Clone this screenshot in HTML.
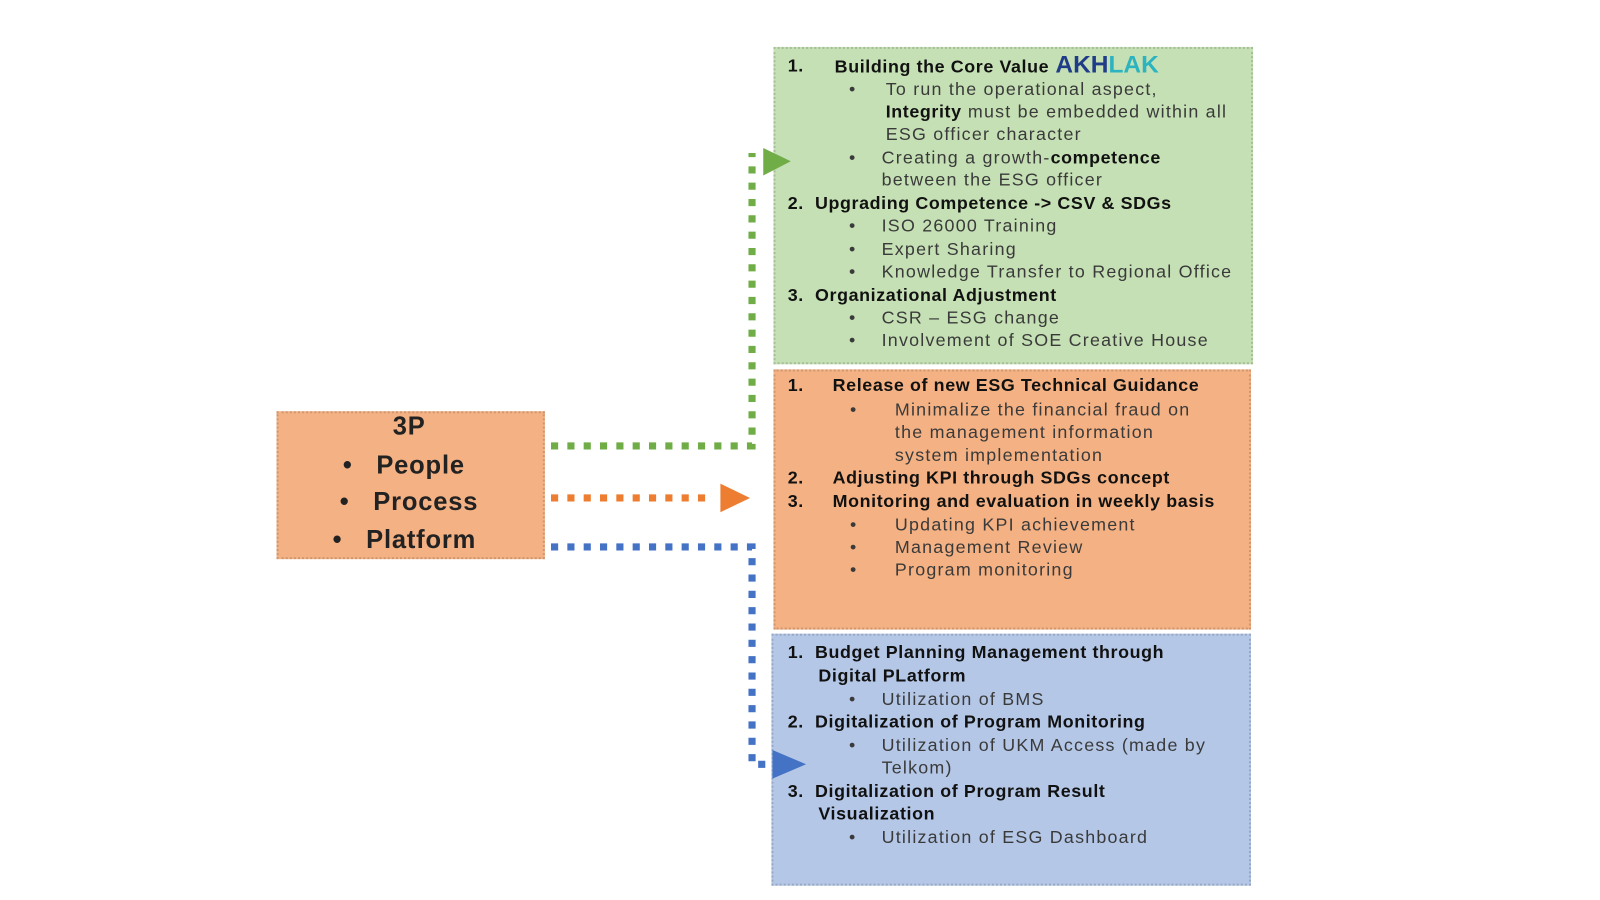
<!DOCTYPE html>
<html><head><meta charset="utf-8"><style>
body{margin:0;width:1600px;height:900px;background:#fff;position:relative;overflow:hidden;font-family:"Liberation Sans",sans-serif;color:#333}
#w{position:absolute;left:0;top:0;width:1568px;height:882px;transform:scale(1.0204);transform-origin:0 0}
.box{position:absolute;border:2px dotted rgba(0,0,0,0.15)}
.t{position:absolute;font-size:17.5px;letter-spacing:1.2px;line-height:22px;white-space:nowrap;color:#3a3a3a}
b{color:#111;letter-spacing:0.6px}
.p{font-size:25px;font-weight:bold;color:#222;letter-spacing:0.8px;line-height:30px}
</style></head><body><div id="w">
<div class="box" style="left:758px;top:46px;width:466px;height:307px;background:#c5e0b4"></div>
<div class="box" style="left:758px;top:362px;width:464px;height:251px;background:#f4b183"></div>
<div class="box" style="left:756px;top:621px;width:466px;height:243px;background:#b4c7e7"></div>
<div class="box" style="left:271px;top:403px;width:259px;height:141px;background:#f4b183"></div>

<div class="t p" style="left:0;width:802px;text-align:center;top:403px">3P</div>
<div class="t p" style="left:336px;top:441px">•&nbsp;&nbsp;&nbsp;People</div>
<div class="t p" style="left:333px;top:477px">•&nbsp;&nbsp;&nbsp;Process</div>
<div class="t p" style="left:326px;top:514px">•&nbsp;&nbsp;&nbsp;Platform</div>

<svg width="1568" height="882" style="position:absolute;left:0;top:0">
<g stroke-width="7" fill="none" stroke-dasharray="7 9">
<path d="M540 437 H737 V150" stroke="#70ad47"/>
<path d="M540 488 H700" stroke="#ed7d31"/>
<path d="M540 536 H737 V749 H752" stroke="#4472c4"/>
</g>
<polygon points="748,145 775,158 748,172" fill="#70ad47"/>
<polygon points="706,474 735,488 706,502" fill="#ed7d31"/>
<polygon points="757,735 790,749 757,763" fill="#4472c4"/>
</svg>

<div class="t" style="left:772px;top:53px"><b>1.</b></div>
<div class="t" style="left:818px;top:53px"><b>Building the Core Value</b> <span style="font-size:24px;font-weight:bold;color:#1f3c88;letter-spacing:0">AKH</span><span style="font-size:24px;font-weight:bold;color:#2bb3c0;letter-spacing:0">LAK</span></div>
<div class="t" style="left:832px;top:76px">•</div>
<div class="t" style="left:868px;top:76px">To run the operational aspect,</div>
<div class="t" style="left:868px;top:98px"><b>Integrity</b> must be embedded within all</div>
<div class="t" style="left:868px;top:120px">ESG officer character</div>
<div class="t" style="left:832px;top:143px">•</div>
<div class="t" style="left:864px;top:143px">Creating a growth-<b>competence</b></div>
<div class="t" style="left:864px;top:165px">between the ESG officer</div>
<div class="t" style="left:772px;top:188px"><b>2.&nbsp;&nbsp;Upgrading Competence -&gt; CSV &amp; SDGs</b></div>
<div class="t" style="left:832px;top:210px">•</div><div class="t" style="left:864px;top:210px">ISO 26000 Training</div>
<div class="t" style="left:832px;top:233px">•</div><div class="t" style="left:864px;top:233px">Expert Sharing</div>
<div class="t" style="left:832px;top:255px">•</div><div class="t" style="left:864px;top:255px">Knowledge Transfer to Regional Office</div>
<div class="t" style="left:772px;top:278px"><b>3.&nbsp;&nbsp;Organizational Adjustment</b></div>
<div class="t" style="left:832px;top:300px">•</div><div class="t" style="left:864px;top:300px">CSR – ESG change</div>
<div class="t" style="left:832px;top:322px">•</div><div class="t" style="left:864px;top:322px">Involvement of SOE Creative House</div>

<div class="t" style="left:772px;top:366px"><b>1.</b></div><div class="t" style="left:816px;top:366px"><b>Release of new ESG Technical Guidance</b></div>
<div class="t" style="left:833px;top:390px">•</div><div class="t" style="left:877px;top:390px">Minimalize the financial fraud on</div>
<div class="t" style="left:877px;top:412px">the management information</div>
<div class="t" style="left:877px;top:435px">system implementation</div>
<div class="t" style="left:772px;top:457px"><b>2.</b></div><div class="t" style="left:816px;top:457px"><b>Adjusting KPI through SDGs concept</b></div>
<div class="t" style="left:772px;top:480px"><b>3.</b></div><div class="t" style="left:816px;top:480px"><b>Monitoring and evaluation in weekly basis</b></div>
<div class="t" style="left:833px;top:503px">•</div><div class="t" style="left:877px;top:503px">Updating KPI achievement</div>
<div class="t" style="left:833px;top:525px">•</div><div class="t" style="left:877px;top:525px">Management Review</div>
<div class="t" style="left:833px;top:547px">•</div><div class="t" style="left:877px;top:547px">Program monitoring</div>

<div class="t" style="left:772px;top:628px"><b>1.&nbsp;&nbsp;Budget Planning Management through</b></div>
<div class="t" style="left:802px;top:651px"><b>Digital PLatform</b></div>
<div class="t" style="left:832px;top:674px">•</div><div class="t" style="left:864px;top:674px">Utilization of BMS</div>
<div class="t" style="left:772px;top:696px"><b>2.&nbsp;&nbsp;Digitalization of Program Monitoring</b></div>
<div class="t" style="left:832px;top:719px">•</div><div class="t" style="left:864px;top:719px">Utilization of UKM Access (made by</div>
<div class="t" style="left:864px;top:741px">Telkom)</div>
<div class="t" style="left:772px;top:764px"><b>3.&nbsp;&nbsp;Digitalization of Program Result</b></div>
<div class="t" style="left:802px;top:786px"><b>Visualization</b></div>
<div class="t" style="left:832px;top:809px">•</div><div class="t" style="left:864px;top:809px">Utilization of ESG Dashboard</div>
</div></body></html>
